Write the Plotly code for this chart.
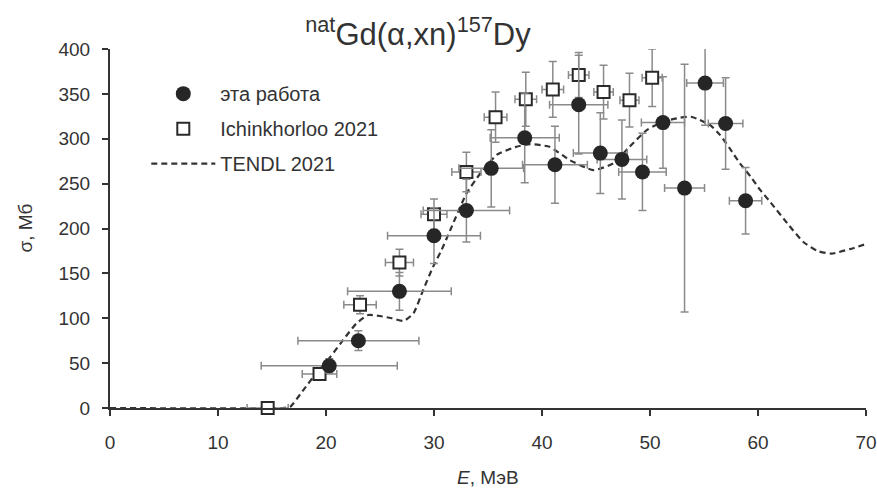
import plotly.graph_objects as go

# эта работа (filled circles)
work_E = [20.3, 23.0, 26.8, 30.0, 33.0, 35.3, 38.4, 41.2, 43.4, 45.4, 47.4, 49.3, 51.2, 53.2, 55.1, 57.0, 58.85]
work_dE = [6.3, 5.6, 4.8, 4.3, 4.0, 3.0, 3.2, 3.0, 2.7, 2.5, 2.3, 2.2, 2.0, 1.85, 1.7, 1.6, 1.5]
work_s = [47, 75, 130, 192, 220, 267, 301, 271, 338, 284, 277, 263, 318, 245, 362, 317, 231]
work_ds = [8, 11, 21, 31, 35, 43, 50, 43, 55, 45, 44, 43, 51, 138, 47, 51, 37]

# Ichinkhorloo 2021 (open squares)
ich_E = [14.6, 19.4, 23.15, 26.8, 30.0, 33.0, 35.7, 38.5, 41.0, 43.4, 45.7, 48.1, 50.2]
ich_dE = [1.9, 1.6, 1.5, 1.3, 1.2, 1.35, 1.05, 1.0, 1.0, 0.95, 0.9, 0.88, 0.93]
ich_s = [0, 38, 115, 162, 216, 263, 324, 344, 355, 371, 352, 343, 368]
ich_ds = [0, 5, 10, 15, 17, 22, 28, 30, 31, 25, 30, 30, 32]

# TENDL 2021 (dashed curve)
tendl_E = [0, 16.0, 16.7, 17.9, 19.1, 20.4, 21.6, 22.8, 23.9, 25.0, 26.1, 27.2, 28.1, 29.0, 29.9,
           30.7, 31.5, 33.0, 34.3, 35.8, 37.6, 38.9, 40.7, 42.6, 44.75, 46.6, 48.1, 49.7, 51.2,
           52.8, 53.8, 54.6, 55.6, 56.5, 57.4, 58.3, 59.3, 60.2, 61.1, 62.9, 64.2, 65.5, 66.8,
           68.5, 70]
tendl_s = [0, 0, 1.5, 20, 38.7, 57, 76, 94, 103.6, 102.5, 100, 97, 105.5, 131.5, 157,
           176, 198, 239, 261.5, 282, 291, 294, 291, 276, 265, 272.6, 291, 309.7, 319,
           323.5, 324.5, 321, 315, 304, 289, 273, 258, 243, 230, 203, 185, 175, 172,
           177, 182.7]

x_ticks = [0, 10, 20, 30, 40, 50, 60, 70]
y_ticks = [0, 50, 100, 150, 200, 250, 300, 350, 400]

FONT = "Liberation Sans, Arial, sans-serif"
TXT = "#333333"
ERR = "#8a8a8a"

fig = go.Figure()

fig.add_trace(go.Scatter(
    x=tendl_E, y=tendl_s, mode="lines", name="TENDL 2021",
    line=dict(color="#333333", width=2.2, dash="6px,4px", shape="spline", smoothing=0.5),
    legendrank=3, legendgroup="c", cliponaxis=False,
))

fig.add_trace(go.Scatter(
    x=ich_E, y=ich_s, mode="markers", name="Ichinkhorloo 2021",
    marker=dict(symbol="square", size=12, color="white", line=dict(color="#2a2a2a", width=2)),
    error_x=dict(type="data", array=ich_dE, color=ERR, thickness=1.5, width=4),
    error_y=dict(type="data", array=ich_ds, color=ERR, thickness=1.5, width=4),
    legendrank=2, legendgroup="b", cliponaxis=False,
))

fig.add_trace(go.Scatter(
    x=work_E, y=work_s, mode="markers", name="эта работа",
    marker=dict(symbol="circle", size=15, color="#262626"),
    error_x=dict(type="data", array=work_dE, color=ERR, thickness=1.5, width=4),
    error_y=dict(type="data", array=work_ds, color=ERR, thickness=1.5, width=4),
    legendrank=1, legendgroup="a", cliponaxis=False,
))

fig.update_layout(
    width=877, height=495, autosize=False,
    margin=dict(l=110, r=11, t=49, b=87, autoexpand=False),
    paper_bgcolor="white", plot_bgcolor="white",
    font=dict(family=FONT, color=TXT, size=19),
    showlegend=True,
    legend=dict(x=0.048, y=0.93, xanchor="left", yanchor="top",
                bgcolor="rgba(0,0,0,0)", font=dict(size=20, color=TXT),
                itemwidth=64, tracegroupgap=6, traceorder="grouped"),
    title=dict(text="<sup>nat</sup>Gd(α,xn)<sup>157</sup>Dy",
               x=418/877, xanchor="center", xref="container",
               y=1 - 34/495, yanchor="middle", yref="container",
               font=dict(size=31, color=TXT, family=FONT)),
    xaxis=dict(range=[0, 70], tickvals=x_ticks, ticktext=[str(v) for v in x_ticks],
               automargin=False,
               showgrid=False, zeroline=False, showline=True, linecolor="#333333", linewidth=2,
               ticks="outside", ticklen=6, tickwidth=1.5, tickcolor="#333333",
               ticklabelstandoff=10, tickfont=dict(size=19, color=TXT)),
    yaxis=dict(range=[0, 400], tickvals=y_ticks, ticktext=[str(v) for v in y_ticks],
               automargin=False,
               showgrid=False, zeroline=False, showline=True, linecolor="#333333", linewidth=2,
               ticks="outside", ticklen=6, tickwidth=1.5, tickcolor="#333333",
               ticklabelstandoff=8, tickfont=dict(size=19, color=TXT)),
    annotations=[
        dict(text="<i>E</i>, МэВ", xref="paper", yref="paper", x=0.5, y=-69/359,
             xanchor="center", yanchor="middle", showarrow=False,
             font=dict(size=19, color=TXT, family=FONT)),
        dict(text="σ, Мб", xref="paper", yref="paper", x=(25 - 110)/756, y=0.5,
             xanchor="center", yanchor="middle", showarrow=False, textangle=-90,
             font=dict(size=19, color=TXT, family=FONT)),
    ],
)

post = ("document.body.style.margin='0';document.body.style.padding='0';"
        "document.body.style.overflow='hidden';")

fig.write_html("out.html", config={"displayModeBar": False},
               post_script=post)
